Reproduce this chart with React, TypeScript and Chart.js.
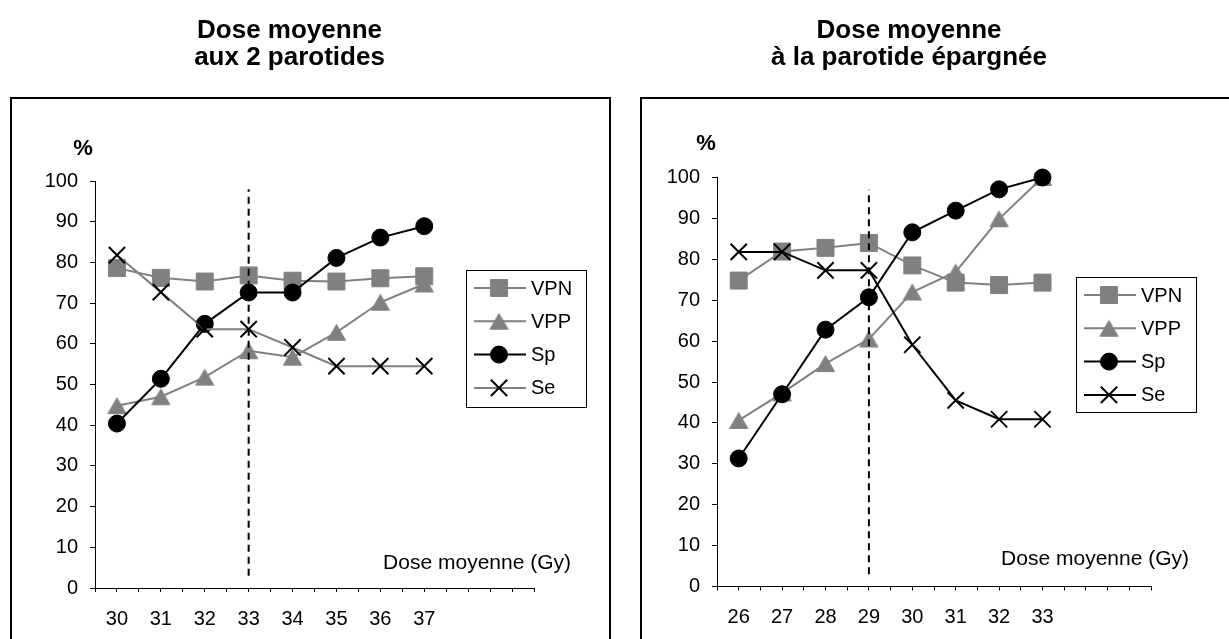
import React, { useEffect, useRef } from 'react';
import { Chart, registerables } from 'chart.js';

Chart.register(...registerables);

const FONT = "'Liberation Sans', Arial, Helvetica, sans-serif";

// ---------- Data ----------
const seriesLabels = ['VPN', 'VPP', 'Sp', 'Se'];
const xAxisTitle = 'Dose moyenne (Gy)';
const yUnit = '%';

const leftTitle = ['Dose moyenne', 'aux 2 parotides'];
const leftDoses = [30, 31, 32, 33, 34, 35, 36, 37];
const leftVPN = [78.6, 76.2, 75.3, 76.8, 75.5, 75.3, 76.1, 76.6];
const leftVPP = [44.8, 47.0, 51.8, 58.3, 56.7, 62.8, 70.2, 74.7];
const leftSp = [40.4, 51.4, 64.9, 72.6, 72.6, 81.1, 86.1, 88.9];
const leftSe = [81.8, 72.7, 63.6, 63.6, 59.1, 54.5, 54.5, 54.5];
const leftCutoff = 33;
const leftCutoffRange = [3, 98];
const leftXRange = [29.5, 39.5];

const rightTitle = ['Dose moyenne', 'à la parotide épargnée'];
const rightDoses = [26, 27, 28, 29, 30, 31, 32, 33];
const rightVPN = [74.8, 81.9, 82.8, 84.0, 78.5, 74.3, 73.7, 74.3];
const rightVPP = [40.6, 47.3, 54.5, 60.5, 72.0, 76.9, 89.9, 100];
const rightSp = [31.3, 47.0, 62.8, 70.7, 86.6, 91.9, 97.1, 100];
const rightSe = [81.8, 81.8, 77.3, 77.3, 59.1, 45.5, 40.9, 40.9];
const rightCutoff = 29;
const rightCutoffRange = [3, 97];
const rightXRange = [25.5, 35.5];

const yRange = [0, 100];
const yStep = 10;
const xStep = 0.5;

// ---------- Styles ----------
const GRAY = '#808080';
const BLACK = '#000000';

// Triangle marker centred on its bounding box (as in the source chart)
function makeTriangle(r: number, color: string): HTMLCanvasElement {
  const size = Math.ceil(r * 2 + 2);
  const c = document.createElement('canvas');
  c.width = size;
  c.height = size;
  const ctx = c.getContext('2d') as CanvasRenderingContext2D;
  const w = r * Math.sqrt(3);
  const h = 1.5 * r;
  const cx = size / 2;
  const cy = size / 2;
  ctx.fillStyle = color;
  ctx.strokeStyle = color;
  ctx.lineWidth = 1;
  ctx.beginPath();
  ctx.moveTo(cx, cy - h / 2);
  ctx.lineTo(cx + w / 2, cy + h / 2);
  ctx.lineTo(cx - w / 2, cy + h / 2);
  ctx.closePath();
  ctx.fill();
  ctx.stroke();
  return c;
}

function drawMarker(ctx: CanvasRenderingContext2D, style: any, r: number, x: number, y: number, fill: string, stroke: string, bw: number) {
  ctx.save();
  if (typeof style !== 'string') {
    ctx.drawImage(style, x - style.width / 2, y - style.height / 2);
    ctx.restore();
    return;
  }
  ctx.fillStyle = fill;
  ctx.strokeStyle = stroke;
  ctx.lineWidth = bw;
  ctx.beginPath();
  if (style === 'rect') {
    const s = Math.SQRT1_2 * r;
    ctx.rect(x - s, y - s, 2 * s, 2 * s);
    ctx.fill();
    if (bw > 0) ctx.stroke();
  } else if (style === 'crossRot') {
    const o = Math.cos(Math.PI / 4) * r;
    ctx.moveTo(x - o, y - o);
    ctx.lineTo(x + o, y + o);
    ctx.moveTo(x - o, y + o);
    ctx.lineTo(x + o, y - o);
    ctx.stroke();
  } else {
    ctx.arc(x, y, r, 0, Math.PI * 2);
    ctx.closePath();
    ctx.fill();
    if (bw > 0) ctx.stroke();
  }
  ctx.restore();
}

const decorPlugin = {
  id: 'decor',
  afterDraw(chart: any, _args: any, opts: any) {
    const ctx: CanvasRenderingContext2D = chart.ctx;
    const ca = chart.chartArea;
    ctx.save();
    // unit label
    ctx.fillStyle = '#000';
    ctx.font = `bold 22px ${FONT}`;
    ctx.textAlign = 'center';
    ctx.textBaseline = 'middle';
    ctx.fillText(opts.unit, ca.left + opts.unitDx, ca.top + opts.unitDy);
    // x axis title inside plot
    ctx.font = `21px ${FONT}`;
    ctx.textAlign = 'right';
    ctx.fillText(opts.xTitle, ca.right + opts.xTitleDx, ca.bottom + opts.xTitleDy);
    // legend
    const lg = opts.legend;
    ctx.fillStyle = '#fff';
    ctx.fillRect(lg.x, lg.y, lg.w, lg.h);
    ctx.strokeStyle = '#000';
    ctx.lineWidth = 1;
    ctx.strokeRect(lg.x + 0.5, lg.y + 0.5, lg.w, lg.h);
    const n = opts.count;
    for (let i = 0; i < n; i++) {
      const ds = chart.data.datasets[i];
      const yy = lg.y + lg.first + i * lg.step;
      ctx.strokeStyle = ds.borderColor;
      ctx.lineWidth = ds.borderWidth;
      ctx.beginPath();
      ctx.moveTo(lg.x + lg.lineFrom, yy);
      ctx.lineTo(lg.x + lg.lineTo, yy);
      ctx.stroke();
      drawMarker(ctx, ds.pointStyle, ds.pointRadius, lg.x + lg.marker, yy, ds.pointBackgroundColor, ds.pointBorderColor, ds.pointBorderWidth);
      ctx.fillStyle = '#000';
      ctx.font = `20px ${FONT}`;
      ctx.textAlign = 'left';
      ctx.textBaseline = 'middle';
      ctx.fillText(ds.label, lg.x + lg.text, yy + 1);
    }
    ctx.restore();
  },
};

function makeSeries(doses: number[], vpn: number[], vpp: number[], sp: number[], se: number[], seLineColor: string, cutoff: number, cutoffRange: number[]) {
  const pts = (vals: number[]) => doses.map((x, i) => ({ x, y: vals[i] }));
  return [
    {
      label: seriesLabels[0], data: pts(vpn), borderColor: GRAY, borderWidth: 2,
      pointStyle: 'rect', pointRadius: 12, pointBackgroundColor: GRAY, pointBorderColor: GRAY, pointBorderWidth: 1,
      order: 5, clip: false, tension: 0,
    },
    {
      label: seriesLabels[1], data: pts(vpp), borderColor: GRAY, borderWidth: 2,
      pointStyle: makeTriangle(10.5, GRAY), pointRadius: 10.5, pointBackgroundColor: GRAY, pointBorderColor: GRAY, pointBorderWidth: 1,
      order: 4, clip: false, tension: 0,
    },
    {
      label: seriesLabels[2], data: pts(sp), borderColor: BLACK, borderWidth: 2,
      pointStyle: 'circle', pointRadius: 8.5, pointBackgroundColor: BLACK, pointBorderColor: BLACK, pointBorderWidth: 1,
      order: 3, clip: false, tension: 0,
    },
    {
      label: seriesLabels[3], data: pts(se), borderColor: seLineColor, borderWidth: 2,
      pointStyle: 'crossRot', pointRadius: 11.5, pointBackgroundColor: BLACK, pointBorderColor: BLACK, pointBorderWidth: 2,
      order: 2, clip: false, tension: 0,
    },
    {
      label: '', data: [{ x: cutoff, y: cutoffRange[0] }, { x: cutoff, y: cutoffRange[1] }],
      borderColor: BLACK, borderWidth: 2, borderDash: [7, 5], pointRadius: 0,
      order: 1, clip: false, tension: 0,
    },
  ];
}

interface PanelCfg {
  left: number; width: number;
  title: string[];
  makeDatasets: () => any[];
  doses: number[];
  xRange: number[];
  padding: { left: number; right: number; top: number; bottom: number };
  titlePad: { top: number; bottom: number };
  legend: any;
  unitDx: number; unitDy: number; xTitleDx: number; xTitleDy: number;
}

function Panel({ cfg }: { cfg: PanelCfg }) {
  const ref = useRef<HTMLCanvasElement>(null);
  useEffect(() => {
    const doses = cfg.doses;
    const chart = new Chart(ref.current as HTMLCanvasElement, {
      type: 'line',
      data: { datasets: cfg.makeDatasets() },
      plugins: [decorPlugin as any],
      options: {
        responsive: false,
        animation: false,
        devicePixelRatio: 1,
        events: [],
        layout: { padding: cfg.padding },
        scales: {
          x: {
            type: 'linear',
            min: cfg.xRange[0],
            max: cfg.xRange[1],
            afterFit: (s: any) => { s.height = 45; },
            border: { display: true, color: '#000', width: 1 },
            grid: { drawOnChartArea: false, drawTicks: true, tickLength: 4, color: '#000', lineWidth: 1 },
            ticks: {
              stepSize: xStep,
              maxTicksLimit: 21,
              autoSkip: false,
              maxRotation: 0,
              minRotation: 0,
              padding: 15,
              color: '#000',
              font: { family: FONT, size: 20 },
              callback: (v: any) => {
                const n = Number(v);
                return Number.isInteger(n) && n >= doses[0] && n <= doses[doses.length - 1] ? String(n) : '';
              },
            },
          },
          y: {
            type: 'linear',
            min: yRange[0],
            max: yRange[1],
            afterFit: (s: any) => { s.width = 50; },
            border: { display: true, color: '#000', width: 1 },
            grid: { drawOnChartArea: false, drawTicks: true, tickLength: 5, color: '#000', lineWidth: 1 },
            ticks: {
              stepSize: yStep,
              padding: 12,
              color: '#000',
              font: { family: FONT, size: 20 },
            },
          },
        },
        plugins: {
          legend: { display: false },
          tooltip: { enabled: false },
          title: {
            display: true,
            text: cfg.title,
            color: '#000',
            font: { family: FONT, size: 26, weight: 'bold', lineHeight: 27 / 26 },
            padding: cfg.titlePad,
          },
          decor: {
            unit: yUnit,
            xTitle: xAxisTitle,
            count: 4,
            legend: cfg.legend,
            unitDx: cfg.unitDx,
            unitDy: cfg.unitDy,
            xTitleDx: cfg.xTitleDx,
            xTitleDy: cfg.xTitleDy,
          },
        } as any,
      },
    } as any);
    return () => chart.destroy();
  }, [cfg]);
  return (
    <canvas
      ref={ref}
      width={cfg.width}
      height={639}
      style={{ position: 'absolute', left: cfg.left, top: 0, width: cfg.width, height: 639 }}
    />
  );
}

const legendLayout = { first: 18, step: 33.3, lineFrom: 8, lineTo: 60, marker: 33, text: 65 };

const leftCfg: PanelCfg = {
  left: 0,
  width: 615,
  title: leftTitle,
  makeDatasets: () => makeSeries(leftDoses, leftVPN, leftVPP, leftSp, leftSe, GRAY, leftCutoff, leftCutoffRange),
  doses: leftDoses,
  xRange: leftXRange,
  padding: { left: 45, right: 81, top: 0, bottom: 6 },
  titlePad: { top: 17, bottom: 110 },
  legend: { x: 466, y: 270, w: 120, h: 137, ...legendLayout },
  unitDx: -12, unitDy: -32, xTitleDx: 37, xTitleDy: -25,
};

const rightCfg: PanelCfg = {
  left: 612,
  width: 617,
  title: rightTitle,
  makeDatasets: () => makeSeries(rightDoses, rightVPN, rightVPP, rightSp, rightSe, BLACK, rightCutoff, rightCutoffRange),
  doses: rightDoses,
  xRange: rightXRange,
  padding: { left: 55, right: 78, top: 0, bottom: 7.5 },
  titlePad: { top: 17, bottom: 106.5 },
  legend: { x: 464, y: 277, w: 120, h: 135, ...legendLayout },
  unitDx: -11, unitDy: -33.5, xTitleDx: 38, xTitleDy: -27.5,
};

export default function App() {
  return (
    <div style={{ position: 'absolute', left: 0, top: 0, width: 1229, height: 639, overflow: 'hidden', background: '#fff' }}>
      <div style={{ position: 'absolute', left: 10, top: 97, width: 601, height: 700, border: '2px solid #000', boxSizing: 'border-box' }} />
      <div style={{ position: 'absolute', left: 640, top: 97, width: 700, height: 700, border: '2px solid #000', boxSizing: 'border-box' }} />
      <Panel cfg={leftCfg} />
      <Panel cfg={rightCfg} />
    </div>
  );
}
